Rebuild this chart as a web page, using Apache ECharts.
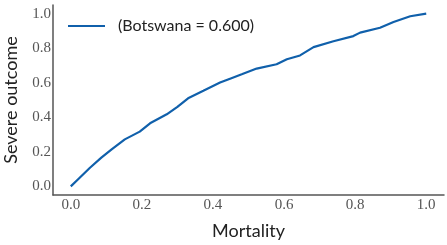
<!DOCTYPE html>
<html>
<head>
<meta charset="utf-8">
<script src="https://cdn.jsdelivr.net/npm/echarts@6/dist/echarts.min.js"></script>
<style>
    html, body { margin: 0; padding: 0; background: #fff; }
    #chart { width: 447px; height: 245px; }
</style>
</head>
<body>
<div id="chart"></div>
<script>
    // 读图估计的曲线点
    const mortality = [0, 0.02, 0.054, 0.086, 0.115, 0.152, 0.194, 0.223, 0.27, 0.3, 0.33, 0.373, 0.42, 0.45, 0.481, 0.523, 0.579, 0.608, 0.645, 0.683, 0.739, 0.795, 0.814, 0.87, 0.908, 0.955, 1.0]
    const severe = [0, 0.04, 0.108, 0.166, 0.214, 0.272, 0.317, 0.365, 0.417, 0.46, 0.51, 0.553, 0.601, 0.625, 0.649, 0.682, 0.707, 0.736, 0.758, 0.806, 0.84, 0.87, 0.89, 0.918, 0.952, 0.985, 1.0]
    const tickValues = [0, 0.2, 0.4, 0.6, 0.8, 1.0]
    const seriesName = '(Botswana = 0.600)'

    const points = mortality.map((x, i) => [x, severe[i]])
    const tickFont = {
        fontFamily: 'Liberation Serif',
        fontSize: 15,
        color: '#555'
    }
    const axisLineStyle = {
        onZero: false,
        lineStyle: {color: '#555', width: 1.5}
    }

    const option = {
        animation: false,
        grid: {left: 53, right: 3, top: 5, bottom: 50, outerBoundsMode: 'none', containLabel: false},
        legend: {
            data: [seriesName],
            left: 63,
            top: 13,
            itemWidth: 37,
            itemHeight: 14,
            icon: 'path://M0,6 L37,6 L37,8 L0,8 Z',
            textStyle: {fontFamily: 'Lato', fontSize: 16, color: '#222', padding: [0, 0, 0, 8]}
        },
        xAxis: {
            type: 'value',
            min: -0.05,
            max: 1.05,
            name: 'Mortality',
            nameLocation: 'middle',
            nameGap: 27,
            nameTextStyle: {fontFamily: 'Lato', fontSize: 18, color: '#222'},
            axisLine: axisLineStyle,
            axisTick: {show: false},
            splitLine: {show: false},
            axisLabel: Object.assign({
                customValues: tickValues,
                margin: 3,
                formatter: v => v.toFixed(1)
            }, tickFont)
        },
        yAxis: {
            type: 'value',
            min: -0.05,
            max: 1.05,
            name: 'Severe outcome',
            nameLocation: 'middle',
            nameGap: 33,
            nameTextStyle: {fontFamily: 'Lato', fontSize: 18, color: '#222'},
            axisLine: Object.assign({show: true}, axisLineStyle),
            axisTick: {show: false},
            splitLine: {show: false},
            axisLabel: Object.assign({
                customValues: tickValues,
                margin: 2,
                formatter: v => v.toFixed(1)
            }, tickFont)
        },
        series: [
            {
                name: seriesName,
                type: 'line',
                data: points,
                showSymbol: false,
                lineStyle: {color: '#1060ab', width: 2.2},
                itemStyle: {color: '#1060ab'}
            }
        ]
    }

    const chart = echarts.init(document.getElementById('chart'))
    chart.setOption(option)
    window.addEventListener('resize', () => chart.resize())
</script>
</body>
</html>
